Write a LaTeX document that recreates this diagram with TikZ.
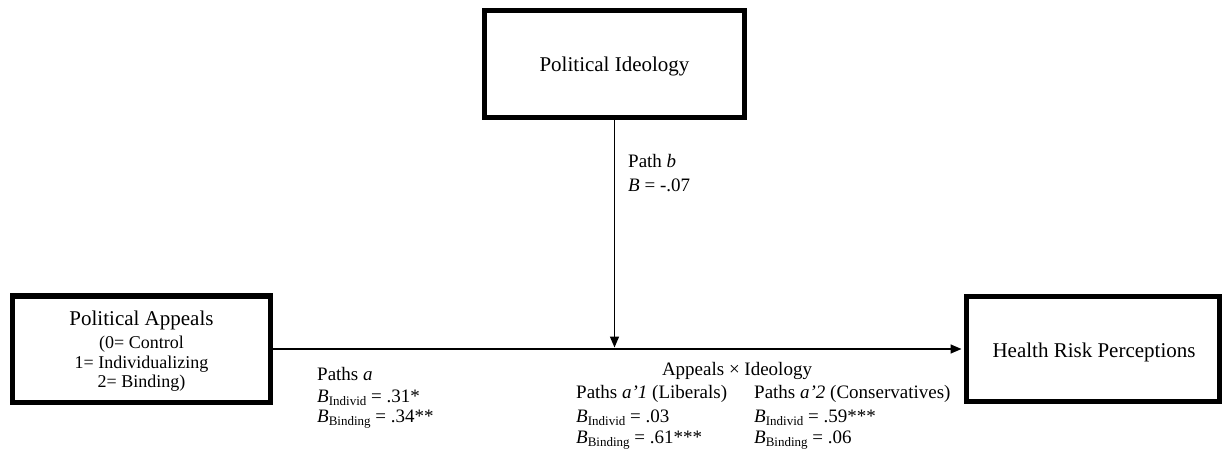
\documentclass[tikz,border=0pt]{standalone}
\usepackage{fontspec}
\setmainfont{Liberation Serif}
\usetikzlibrary{arrows.meta}
\newcommand{\Bsub}[1]{\textit{B}\raisebox{-0.35ex}{\fontsize{13}{13}\selectfont #1}}
\tikzset{
  box/.style={draw, line width=5pt, inner sep=0pt},
  title/.style={font=\fontsize{21}{24}\selectfont, inner sep=0pt},
  sub/.style={font=\fontsize{18}{20}\selectfont, inner sep=0pt, anchor=base},
  lab/.style={font=\fontsize{19}{22}\selectfont, inner sep=0pt, anchor=base west},
  conn/.style={line width=1.5pt, -{Triangle[length=11pt,width=9pt]}},
  plain/.style={line width=1.5pt}
}
\begin{document}
\begin{tikzpicture}[x=1pt,y=-1pt]
\useasboundingbox (0,0) rectangle (1223,454);
% boxes
\node[box, minimum width=260pt, minimum height=107pt] (ideo) at (614.5,64) {};
\node[box, minimum width=258pt, minimum height=106pt] (appeals) at (141.5,349) {};
\node[box, minimum width=253pt, minimum height=105pt] (health) at (1093,349) {};
% box texts
\node[title, anchor=base] (ideot) at (614.5,72) {Political Ideology};
\node[title, anchor=base] (appt) at (141.5,325) {Political Appeals};
\node[sub] (app1) at (141.5,348) {(0= Control};
\node[sub] (app2) at (141.5,368) {1= Individualizing};
\node[sub] (app3) at (141.5,387) {2= Binding)};
\node[title, anchor=base] (healtht) at (1094,357) {Health Risk Perceptions};
% connectors
\coordinate (tip) at (614.5,347.5);
\draw[conn, shorten >=2.5pt] (appeals.east) -- (health.west);
\draw[conn] (ideo.south) -- (tip);
% labels
\node[lab] (pb1) at (628,168) {Path \textit{b}};
\node[lab] (pb2) at (628,192) {\textit{B} = -.07};
\node[lab] (pa1) at (317,380) {Paths \textit{a}};
\node[lab] (pa2) at (317,402) {\Bsub{Individ} = .31*};
\node[lab] (pa3) at (317,422) {\Bsub{Binding} = .34**};
\node[lab, anchor=base] (int) at (737,375) {Appeals × Ideology};
\node[lab] (l1) at (576,398) {Paths \textit{a’1} (Liberals)};
\node[lab] (l2) at (576,422) {\Bsub{Individ} = .03};
\node[lab] (l3) at (576,443) {\Bsub{Binding} = .61***};
\node[lab] (c1) at (754,398) {Paths \textit{a’2} (Conservatives)};
\node[lab] (c2) at (754,422) {\Bsub{Individ} = .59***};
\node[lab] (c3) at (754,443) {\Bsub{Binding} = .06};
\end{tikzpicture}
\end{document}
